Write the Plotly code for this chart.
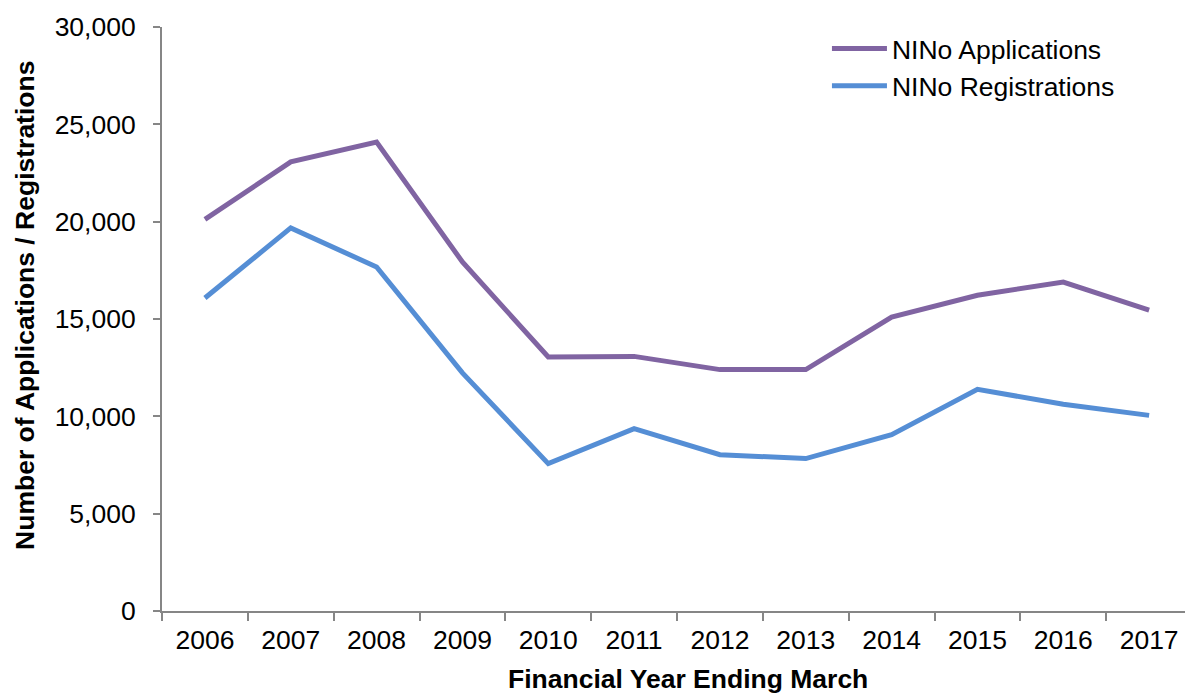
import plotly.graph_objects as go

# Data
years = ["2006", "2007", "2008", "2009", "2010", "2011",
         "2012", "2013", "2014", "2015", "2016", "2017"]
applications = [20120, 23070, 24090, 17930, 13050, 13080,
                12400, 12400, 15100, 16220, 16900, 15450]
registrations = [16080, 19680, 17670, 12230, 7570, 9370,
                 8030, 7830, 9060, 11390, 10620, 10050]

FONT = "Arial, Liberation Sans, sans-serif"
AXIS_GREY = "#868686"

fig = go.Figure()
fig.add_trace(go.Scatter(x=years, y=applications, mode="lines",
                         name="NINo Applications",
                         line=dict(color="#8064A2", width=5)))
fig.add_trace(go.Scatter(x=years, y=registrations, mode="lines",
                         name="NINo Registrations",
                         line=dict(color="#558ED5", width=5)))

fig.update_layout(
    width=1185, height=695,
    margin=dict(l=162, r=0, t=27, b=84),
    paper_bgcolor="white", plot_bgcolor="white",
    font=dict(family=FONT, size=26.5, color="black"),
    showlegend=True,
    legend=dict(x=0.650, y=1.004, xanchor="left", yanchor="top",
                bgcolor="rgba(0,0,0,0)", itemwidth=55,
                font=dict(size=26.5), tracegroupgap=0),
    xaxis=dict(type="category", range=[-0.5, 11.418],
               showline=True, linecolor=AXIS_GREY, linewidth=2,
               ticks="outside", tickson="boundaries", ticklen=8,
               tickcolor=AXIS_GREY, tickwidth=2, showgrid=False,
               ticklabelstandoff=4, zeroline=False),
    yaxis=dict(range=[0, 30000], dtick=5000, tickformat=",",
               showline=True, linecolor=AXIS_GREY, linewidth=2,
               ticks="outside", ticklen=7, tickcolor=AXIS_GREY,
               tickwidth=2, showgrid=False, zeroline=False,
               ticklabelstandoff=12),
    annotations=[
        dict(text="<b>Financial Year Ending March</b>", xref="paper", yref="paper",
             x=0.5137, y=-0.116, xanchor="center", yanchor="middle",
             showarrow=False, font=dict(size=26.5)),
        dict(text="<b>Number of Applications / Registrations</b>",
             xref="paper", yref="paper", x=-0.134, y=0.524,
             xanchor="center", yanchor="middle", textangle=-90,
             showarrow=False, font=dict(size=26.5)),
    ],
)

# page body has a default 8px margin; drop it so the figure fills the window
fig.write_html("out.html", config={"displayModeBar": False},
               post_script="document.body.style.margin='0';")
